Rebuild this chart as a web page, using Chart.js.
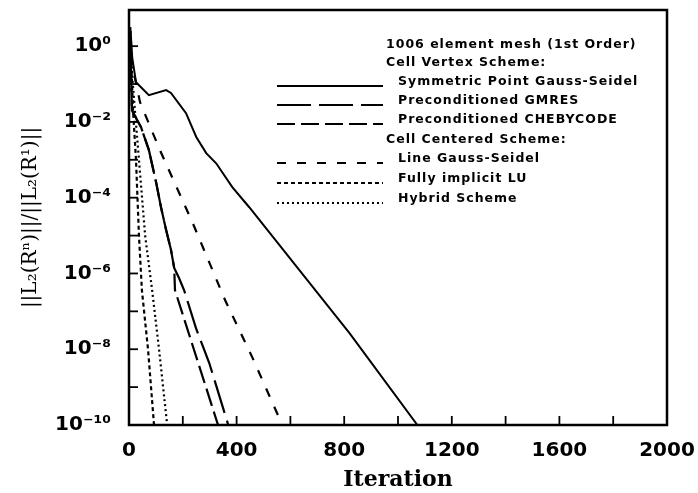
<!DOCTYPE html>
<html>
<head>
<meta charset="utf-8">
<script src="https://cdn.jsdelivr.net/npm/chart.js"></script>
<style>
  html, body { margin: 0; padding: 0; background: #fff; }
  canvas { display: block; }
</style>
</head>
<body>
<canvas id="myChart" width="698" height="493"></canvas>
<script>
// valores (iteracao, residuo normalizado)
const symGsIter = [0, 5, 12, 26, 74, 138, 156, 212, 250, 287, 324, 384, 447, 819, 1072];
const symGsRes = [1, 3.2, 0.5, 0.112, 0.051, 0.069, 0.058, 0.017, 4.0e-3, 1.5e-3, 8.1e-4, 1.9e-4, 5.6e-5, 2.7e-8, 1e-10];

const gmresIter = [0, 4, 11, 45, 74, 101, 119, 138, 156, 168, 186, 205, 249, 298, 369];
const gmresRes = [1, 2.5, 0.02, 7.2e-3, 1.8e-3, 2.5e-4, 5.6e-5, 1.4e-5, 4.2e-6, 1.4e-6, 7.6e-7, 3.6e-7, 3.6e-8, 4.4e-9, 1e-10];

const chebyIter = [0, 4, 11, 45, 74, 101, 119, 138, 156, 168, 171, 331];
const chebyRes = [1, 2.5, 0.02, 7.2e-3, 1.8e-3, 2.5e-4, 5.6e-5, 1.4e-5, 4.2e-6, 1.4e-6, 3.6e-7, 1e-10];

const lineGsIter = [0, 5, 12, 41, 115, 235, 357, 458, 570];
const lineGsRes = [1, 2.5, 0.32, 0.033, 1.8e-3, 2.3e-5, 2.0e-7, 6.2e-9, 1e-10];

const luIter = [0, 4, 9, 15, 26, 37, 48, 71, 93];
const luRes = [1, 2.5, 0.25, 0.02, 1e-3, 1e-5, 3.6e-7, 9.5e-9, 1e-10];

const hybridIter = [0, 4, 10, 22, 37, 60, 86, 112, 142];
const hybridRes = [1, 2.5, 0.25, 0.02, 1e-3, 1e-5, 3.6e-7, 9.5e-9, 1e-10];

const seriesNames = ['Symmetric Point Gauss-Seidel', 'Preconditioned GMRES', 'Preconditioned CHEBYCODE',
  'Line Gauss-Seidel', 'Fully implicit LU', 'Hybrid Scheme'];

const xTicks = [0, 400, 800, 1200, 1600, 2000];
const yDecades = [0, -1, -2, -3, -4, -5, -6, -7, -8, -9, -10];

const sup = { '0': '⁰', '1': '¹', '2': '²', '3': '³', '4': '⁴', '5': '⁵', '6': '⁶', '7': '⁷', '8': '⁸', '9': '⁹', '-': '⁻' };

function pts(xs, ys) {
  return xs.map((x, i) => ({ x: x, y: ys[i] }));
}

function ds(label, xs, ys, dash, width) {
  return {
    label: label,
    data: pts(xs, ys),
    borderColor: '#000',
    borderWidth: width,
    borderDash: dash,
    pointRadius: 0,
    fill: false,
    tension: 0
  };
}

// caixa, marcas internas e legenda
const framePlugin = {
  id: 'frame',
  afterDraw(chart) {
    const c = chart.ctx;
    const a = chart.chartArea;
    const xs = chart.scales.x, ys = chart.scales.y;
    c.save();
    c.strokeStyle = '#000';
    c.lineWidth = 2.5;
    c.setLineDash([]);
    c.strokeRect(a.left, a.top, a.right - a.left, a.bottom - a.top);

    c.lineWidth = 1.8;
    xs.ticks.forEach(t => {
      if (t.value <= 0 || t.value >= 2000) return;
      const px = xs.getPixelForValue(t.value);
      c.beginPath(); c.moveTo(px, a.bottom); c.lineTo(px, a.bottom - 9); c.stroke();
    });
    ys.ticks.forEach(t => {
      const py = ys.getPixelForValue(t.value);
      if (py >= a.bottom - 1) return;
      c.beginPath(); c.moveTo(a.left, py); c.lineTo(a.left + 9, py); c.stroke();
    });

    // legenda
    c.fillStyle = '#000';
    c.font = 'bold 12.5px "DejaVu Sans"';
    c.letterSpacing = '1px';
    c.textBaseline = 'middle';
    c.textAlign = 'left';
    c.fillText('1006 element mesh (1st Order)', 386, 45);
    c.fillText('Cell Vertex Scheme:', 386, 63);
    c.fillText('Cell Centered Scheme:', 386, 140);
    const rows = [82, 101, 120, 159, 179, 199];
    chart.data.datasets.forEach((d, i) => {
      const y = rows[i];
      c.lineWidth = 2;
      c.setLineDash(d.borderDash);
      c.beginPath(); c.moveTo(277, y + 4); c.lineTo(383, y + 4); c.stroke();
      c.setLineDash([]);
      c.fillText(d.label, 398, y);
    });
    c.restore();
  }
};

const config = {
  type: 'line',
  data: {
    datasets: [
      ds(seriesNames[0], symGsIter, symGsRes, [], 2),
      ds(seriesNames[1], gmresIter, gmresRes, [34, 8], 2.2),
      ds(seriesNames[2], chebyIter, chebyRes, [18, 6], 2.2),
      ds(seriesNames[3], lineGsIter, lineGsRes, [9, 11], 2.2),
      ds(seriesNames[4], luIter, luRes, [4, 3], 2.2),
      ds(seriesNames[5], hybridIter, hybridRes, [2, 3], 2.2)
    ]
  },
  options: {
    responsive: false,
    animation: false,
    layout: { padding: { top: 10, right: 31, bottom: 0, left: 0 } },
    plugins: { legend: { display: false }, tooltip: { enabled: false } },
    scales: {
      x: {
        type: 'linear',
        min: 0,
        max: 2000,
        grid: { display: false, drawTicks: false },
        border: { display: false },
        afterFit(s) { s.height = 68; s.paddingLeft = 0; s.paddingRight = 0; },
        ticks: {
          stepSize: 200,
          autoSkip: false,
          maxRotation: 0,
          padding: 14,
          color: '#000',
          font: { family: 'DejaVu Sans', weight: 'bold', size: 20 },
          callback: v => (xTicks.includes(v) ? String(v) : '')
        },
        title: {
          display: true,
          text: 'Iteration',
          color: '#000',
          padding: { top: 0, bottom: 0 },
          font: { family: 'DejaVu Serif', weight: 'bold', size: 22 }
        }
      },
      y: {
        type: 'logarithmic',
        min: 1e-10,
        max: 9,
        grid: { display: false, drawTicks: false },
        border: { display: false },
        afterFit(s) { s.width = 129; s.paddingTop = 0; s.paddingBottom = 0; },
        afterBuildTicks(s) {
          s.ticks = yDecades.map(e => ({ value: Math.pow(10, e) }));
        },
        ticks: {
          autoSkip: false,
          padding: 18,
          color: '#000',
          font: { family: 'DejaVu Sans', weight: 'bold', size: 20 },
          callback: v => {
            const e = Math.round(Math.log10(v));
            if (e % 2 !== 0) return '';
            return '10' + String(e).split('').map(ch => sup[ch]).join('');
          }
        },
        title: {
          display: true,
          text: '||L₂(Rⁿ)||/||L₂(R¹)||',
          color: '#000',
          padding: { top: 19, bottom: 0 },
          font: { family: 'DejaVu Serif', size: 20 }
        }
      }
    }
  },
  plugins: [framePlugin]
};

window.onload = function() {
  const ctx = document.getElementById('myChart').getContext('2d');
  new Chart(ctx, config);
};
</script>
</body>
</html>
